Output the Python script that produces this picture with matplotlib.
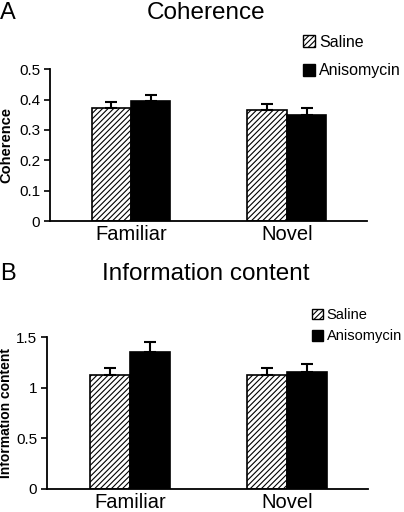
import numpy as np
import matplotlib
matplotlib.use('Agg')
import matplotlib.pyplot as plt
from matplotlib.patches import Patch

plt.rcParams['font.family'] = ['Liberation Sans', 'DejaVu Sans']
plt.rcParams['hatch.linewidth'] = 0.8

groups = ['Familiar', 'Novel']
series = ['Saline', 'Anisomycin']

# panel A
coh_saline = [0.371, 0.364]
coh_saline_err = [0.021, 0.020]
coh_aniso = [0.395, 0.350]
coh_aniso_err = [0.020, 0.021]

# panel B
info_saline = [1.13, 1.13]
info_saline_err = [0.07, 0.07]
info_aniso = [1.36, 1.154]
info_aniso_err = [0.09, 0.086]

fig = plt.figure(figsize=(4.04, 5.12), dpi=100)
axA = fig.add_axes([0.124, 0.568, 0.784, 0.297])
axB = fig.add_axes([0.116, 0.045, 0.795, 0.296])


def panel(ax, sal, sal_err, ani, ani_err, ymax, yticks, ylabels, ylabel, xlim,
          ylfs, ylx, leg_xy, leg_fs, leg_sp):
    x = np.arange(len(groups))
    w = 0.253
    ax.bar(x - w / 2, sal, w, color='white', edgecolor='black', hatch='//////',
           linewidth=1.2, yerr=[np.zeros(len(sal)), sal_err],
           error_kw=dict(ecolor='black', elinewidth=1.5, capsize=4, capthick=1.5))
    ax.bar(x + w / 2, ani, w, color='black', edgecolor='black', linewidth=1.2,
           yerr=[np.zeros(len(ani)), ani_err],
           error_kw=dict(ecolor='black', elinewidth=1.5, capsize=4, capthick=1.5))
    ax.set_xlim(*xlim)
    ax.set_ylim(0, ymax)
    ax.set_yticks(yticks)
    ax.set_yticklabels(ylabels, fontsize=11)
    ax.set_xticks(x)
    ax.set_xticklabels(groups, fontsize=14.5)
    ax.tick_params(axis='x', length=0, pad=3)
    ax.tick_params(axis='y', direction='out', length=4, width=1.2, pad=3)
    for s in ['top', 'right']:
        ax.spines[s].set_visible(False)
    for s in ['left', 'bottom']:
        ax.spines[s].set_linewidth(1.3)
    ax.set_ylabel(ylabel, fontsize=ylfs, fontweight='bold')
    ax.yaxis.set_label_coords(ylx, 0.5)
    handles = [Patch(facecolor='white', edgecolor='black', hatch='//////', label='Saline'),
               Patch(facecolor='black', edgecolor='black', label='Anisomycin')]
    ax.legend(handles=handles, loc='lower left', bbox_to_anchor=leg_xy,
              frameon=False, fontsize=leg_fs, handlelength=0.75, handleheight=0.75,
              handletextpad=0.25, labelspacing=leg_sp, borderaxespad=0, borderpad=0)


panel(axA, coh_saline, coh_saline_err, coh_aniso, coh_aniso_err, 0.5,
      [0, 0.1, 0.2, 0.3, 0.4, 0.5], ['0', '0.1', '0.2', '0.3', '0.4', '0.5'],
      'Coherence', (-0.519, 1.513), 10.5, -0.117, (0.8, 0.94), 11.5, 0.85)
panel(axB, info_saline, info_saline_err, info_aniso, info_aniso_err, 1.5,
      [0, 0.5, 1, 1.5], ['0', '0.5', '1', '1.5'],
      'Information content', (-0.529, 1.516), 10, -0.106, (0.826, 0.96), 10.5, 0.5)

fig.text(0.0, 1 - 19 / 512, 'A', fontsize=17, va='baseline', ha='left')
fig.text(0.51, 1 - 19 / 512, 'Coherence', fontsize=17.5, va='baseline', ha='center')
fig.text(0.0, 1 - 280 / 512, 'B', fontsize=17, va='baseline', ha='left')
fig.text(0.51, 1 - 280 / 512, 'Information content', fontsize=17.5, va='baseline', ha='center')

fig.savefig('out.png', dpi=100)
